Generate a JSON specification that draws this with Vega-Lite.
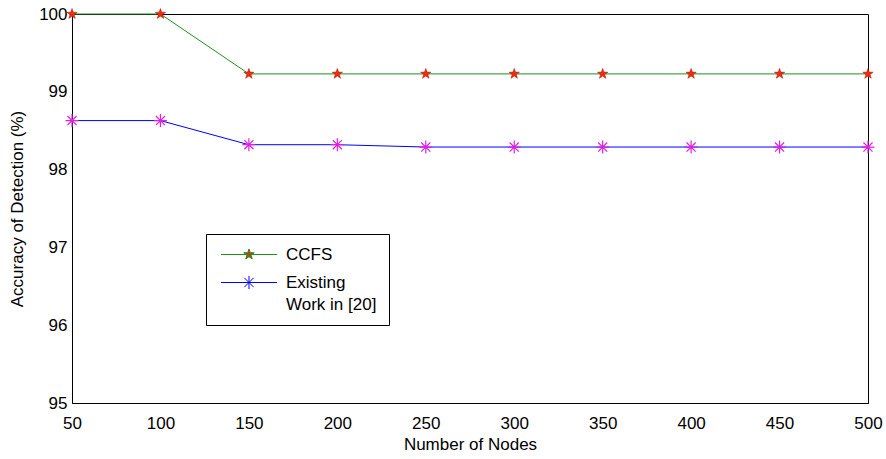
{
  "$schema": "https://vega.github.io/schema/vega-lite/v6.json",
  "width": 796,
  "height": 389,
  "autosize": {"type": "none"},
  "padding": {"left": 72, "top": 14, "right": 18, "bottom": 56},
  "config": {
    "view": {"stroke": "black", "strokeWidth": 1},
    "axis": {
      "domainColor": "black",
      "labelColor": "black",
      "titleColor": "black",
      "labelFont": "Liberation Sans",
      "titleFont": "Liberation Sans",
      "labelFontSize": 17,
      "titleFontSize": 17,
      "titleFontWeight": "normal",
      "grid": false,
      "ticks": false
    }
  },
  "data": {
    "values": [
      {"n": 50, "acc": 100, "series": "CCFS"},
      {"n": 100, "acc": 100, "series": "CCFS"},
      {"n": 150, "acc": 99.23, "series": "CCFS"},
      {"n": 200, "acc": 99.23, "series": "CCFS"},
      {"n": 250, "acc": 99.23, "series": "CCFS"},
      {"n": 300, "acc": 99.23, "series": "CCFS"},
      {"n": 350, "acc": 99.23, "series": "CCFS"},
      {"n": 400, "acc": 99.23, "series": "CCFS"},
      {"n": 450, "acc": 99.23, "series": "CCFS"},
      {"n": 500, "acc": 99.23, "series": "CCFS"},
      {"n": 50, "acc": 98.63, "series": "Existing Work in [20]"},
      {"n": 100, "acc": 98.63, "series": "Existing Work in [20]"},
      {"n": 150, "acc": 98.32, "series": "Existing Work in [20]"},
      {"n": 200, "acc": 98.32, "series": "Existing Work in [20]"},
      {"n": 250, "acc": 98.29, "series": "Existing Work in [20]"},
      {"n": 300, "acc": 98.29, "series": "Existing Work in [20]"},
      {"n": 350, "acc": 98.29, "series": "Existing Work in [20]"},
      {"n": 400, "acc": 98.29, "series": "Existing Work in [20]"},
      {"n": 450, "acc": 98.29, "series": "Existing Work in [20]"},
      {"n": 500, "acc": 98.29, "series": "Existing Work in [20]"}
    ]
  },
  "layer": [
    {
      "mark": {"type": "line", "strokeWidth": 1},
      "encoding": {
        "x": {
          "field": "n", "type": "quantitative",
          "scale": {"domain": [50, 500], "nice": false, "zero": false},
          "axis": {"orient": "bottom", "values": [50, 100, 150, 200, 250, 300, 350, 400, 450, 500], "title": "Number of Nodes", "labelPadding": 12, "titlePadding": 5, "labelFlush": false}
        },
        "y": {
          "field": "acc", "type": "quantitative",
          "scale": {"domain": [95, 100], "nice": false, "zero": false},
          "axis": {"orient": "left", "values": [95, 96, 97, 98, 99, 100], "format": "d", "title": "Accuracy of Detection (%)", "labelPadding": 5, "titlePadding": 12, "labelFlush": false}
        },
        "stroke": {
          "field": "series", "type": "nominal",
          "scale": {"domain": ["CCFS", "Existing Work in [20]"], "range": ["#1e901e", "#0000ff"]},
          "legend": {
            "orient": "none", "legendX": 134, "legendY": 220, "title": null,
            "padding": 12, "strokeColor": "black", "fillColor": "white", "cornerRadius": 0,
            "symbolType": "M-1,0L9.2,0", "symbolSize": 121, "symbolStrokeWidth": 1,
            "labelOffset": 51, "labelFontSize": 17, "labelFont": "Liberation Sans", "labelColor": "black",
            "rowPadding": 10,
            "labelExpr": "datum.label == 'CCFS' ? 'CCFS' : ['Existing', 'Work in [20]']",
            "encode": {
              "labels": {"update": {"lineHeight": {"value": 22}}},
              "symbols": {"update": {
                "shape": {"signal": "datum.value == 'CCFS' ? 'M-1,0L9.2,0M4.09,-1L4.325,-0.324L5.041,-0.309L4.47,0.124L4.678,0.809L4.09,0.4L3.502,0.809L3.71,0.124L3.139,-0.309L3.855,-0.324Z' : 'M-1,0L9.2,0M2.89,0L5.29,0M4.09,-1.2L4.09,1.2M3.24,-0.85L4.94,0.85M3.24,0.85L4.94,-0.85'"},
                "fill": {"signal": "datum.value == 'CCFS' ? '#f02c10' : 'transparent'"}
              }}
            }
          }
        }
      }
    },
    {
      "transform": [{"filter": "datum.series == 'CCFS'"}],
      "mark": {"type": "point", "shape": "M0,-1L0.235,-0.324L0.951,-0.309L0.38,0.124L0.588,0.809L0,0.4L-0.588,0.809L-0.38,0.124L-0.951,-0.309L-0.235,-0.324Z", "filled": true, "fill": "#f02c10", "stroke": "#a01800", "strokeWidth": 0.5, "size": 121, "opacity": 1},
      "encoding": {
        "x": {"field": "n", "type": "quantitative"},
        "y": {"field": "acc", "type": "quantitative"}
      }
    },
    {
      "transform": [{"filter": "datum.series != 'CCFS'"}],
      "mark": {"type": "point", "shape": "M-1,0L1,0M0,-1L0,1M-0.7,-0.7L0.7,0.7M-0.7,0.7L0.7,-0.7", "filled": false, "stroke": "#e020e0", "strokeWidth": 1.2, "size": 169, "opacity": 1},
      "encoding": {
        "x": {"field": "n", "type": "quantitative"},
        "y": {"field": "acc", "type": "quantitative"}
      }
    }
  ]
}
